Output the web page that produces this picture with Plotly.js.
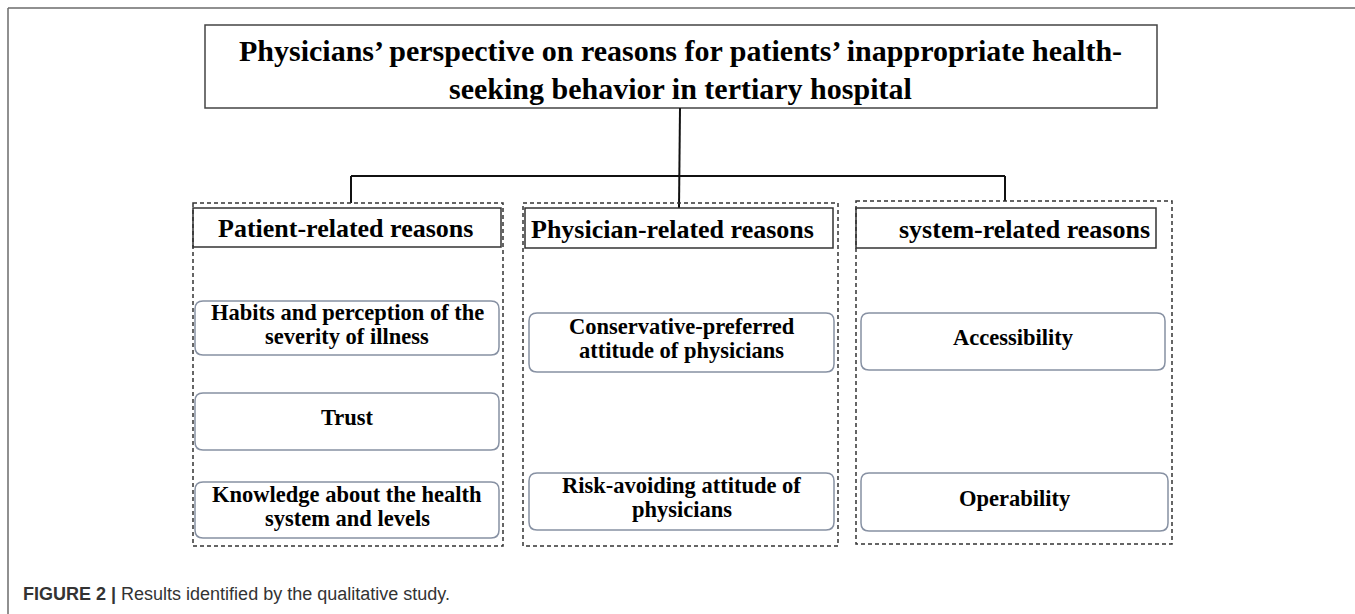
<!DOCTYPE html>
<html>
<head>
<meta charset="utf-8">
<script src="https://cdn.plot.ly/plotly-3.0.1.min.js"></script>
<style>html,body{margin:0;padding:0;background:#fff;}#chart{width:1355px;height:614px;}</style>
</head>
<body>
<div id="chart"></div>
<script>
// ---- content ----
var titleLines = ["Physicians\u2019 perspective on reasons for patients\u2019 inappropriate health-", "seeking behavior in tertiary hospital"];
var categories = ["Patient-related reasons", "Physician-related reasons", "system-related reasons"];
var reasons = [
  ["Habits and perception of the<br>severity of illness", "Trust", "Knowledge about the health<br>system and levels"],
  ["Conservative-preferred<br>attitude of physicians", "Risk-avoiding attitude of<br>physicians"],
  ["Accessibility", "Operability"]
];
var captionLabel = "FIGURE 2 |";
var captionText = "Results identified by the qualitative study.";

// ---- geometry (pixel coordinates on a 1355x614 canvas) ----
var titleBox = {x0: 205, x1: 1157, y0: 25, y1: 108, cx: 680, lineY: [50, 88]};
var busY = 176;
var lineGap = 24;
var groupGeom = [
  {dash: [193, 503, 203, 546], head: [193, 501, 208, 247], textX: 345, drop: 351,
   items: [[195, 499, 301, 355], [195, 499, 393, 450], [195, 499, 482, 538]]},
  {dash: [523, 838, 203, 546], head: [525, 833, 208, 248], textX: 672, drop: 679,
   items: [[529, 834, 313, 372], [529, 834, 473, 530]]},
  {dash: [856, 1172, 201, 544], head: [856, 1156, 208, 248], textX: 1024, drop: 1005,
   items: [[861, 1165, 313, 370], [861, 1168, 473, 531]]}
];

var serif = "Liberation Serif, Times New Roman, serif";
var shapes = [];
var annotations = [];

function roundRect(x0, x1, y0, y1, r) {
  return "M" + (x0 + r) + "," + y0 + " L" + (x1 - r) + "," + y0 +
    " Q" + x1 + "," + y0 + " " + x1 + "," + (y0 + r) +
    " L" + x1 + "," + (y1 - r) +
    " Q" + x1 + "," + y1 + " " + (x1 - r) + "," + y1 +
    " L" + (x0 + r) + "," + y1 +
    " Q" + x0 + "," + y1 + " " + x0 + "," + (y1 - r) +
    " L" + x0 + "," + (y0 + r) +
    " Q" + x0 + "," + y0 + " " + (x0 + r) + "," + y0 + " Z";
}

// figure frame (top & left)
shapes.push({type: "line", xref: "x", yref: "y", x0: 8, x1: 1355, y0: 8, y1: 8, line: {color: "#6b6b6b", width: 1.5}});
shapes.push({type: "line", xref: "x", yref: "y", x0: 8, x1: 8, y0: 8, y1: 614, line: {color: "#6b6b6b", width: 1.5}});

// title box
shapes.push({type: "rect", xref: "x", yref: "y", x0: titleBox.x0, x1: titleBox.x1, y0: titleBox.y0, y1: titleBox.y1, line: {color: "#444", width: 1.5}});
titleLines.forEach(function (t, i) {
  annotations.push({xref: "x", yref: "y", x: titleBox.cx, y: titleBox.lineY[i], text: "<b>" + t + "</b>", showarrow: false,
    xanchor: "center", yanchor: "middle", font: {family: serif, size: 30, color: "#000"}});
});

// connectors
shapes.push({type: "line", xref: "x", yref: "y", x0: 680, x1: groupGeom[1].drop, y0: titleBox.y1, y1: groupGeom[1].head[2], line: {color: "#111", width: 2}});
shapes.push({type: "line", xref: "x", yref: "y", x0: groupGeom[0].drop, x1: groupGeom[2].drop, y0: busY, y1: busY, line: {color: "#111", width: 2}});
[0, 2].forEach(function (g) {
  shapes.push({type: "line", xref: "x", yref: "y", x0: groupGeom[g].drop, x1: groupGeom[g].drop, y0: busY, y1: groupGeom[g].dash[2], line: {color: "#111", width: 2}});
});

categories.forEach(function (cat, g) {
  var G = groupGeom[g];
  shapes.push({type: "rect", xref: "x", yref: "y", x0: G.dash[0], x1: G.dash[1], y0: G.dash[2], y1: G.dash[3],
    line: {color: "#333", width: 1.5, dash: "4px,3px"}});
  shapes.push({type: "rect", xref: "x", yref: "y", x0: G.head[0], x1: G.head[1], y0: G.head[2], y1: G.head[3],
    line: {color: "#333", width: 1.5}});
  annotations.push({xref: "x", yref: "y", x: G.textX, y: (G.head[2] + G.head[3]) / 2 + 1, text: "<b>" + cat + "</b>", showarrow: false,
    xanchor: "center", yanchor: "middle", font: {family: serif, size: 26, color: "#000"}});
  reasons[g].forEach(function (r, k) {
    var b = G.items[k];
    shapes.push({type: "path", xref: "x", yref: "y", path: roundRect(b[0], b[1], b[2], b[3], 8),
      line: {color: "#8791a3", width: 1.5}});
    var lines = r.split("<br>");
    var cy = (b[2] + b[3]) / 2 - 4;
    lines.forEach(function (ln, j) {
      annotations.push({xref: "x", yref: "y", x: (b[0] + b[1]) / 2,
        y: cy + (j - (lines.length - 1) / 2) * lineGap, text: "<b>" + ln + "</b>", showarrow: false,
        xanchor: "center", yanchor: "middle", align: "center", font: {family: serif, size: 22.5, color: "#000"}});
    });
  });
});

// caption
annotations.push({xref: "x", yref: "y", x: 21, y: 594, xanchor: "left", yanchor: "middle", showarrow: false,
  text: "<b>" + captionLabel + "</b> " + captionText, font: {family: "Liberation Sans, Arial, sans-serif", size: 18, color: "#333"}});

var layout = {
  width: 1355, height: 614,
  margin: {l: 0, r: 0, t: 0, b: 0},
  paper_bgcolor: "#fff", plot_bgcolor: "#fff",
  xaxis: {range: [0, 1355], visible: false, fixedrange: true},
  yaxis: {range: [614, 0], visible: false, fixedrange: true},
  showlegend: false,
  shapes: shapes,
  annotations: annotations
};
Plotly.newPlot("chart", [], layout, {displayModeBar: false, staticPlot: true});
</script>
</body>
</html>
